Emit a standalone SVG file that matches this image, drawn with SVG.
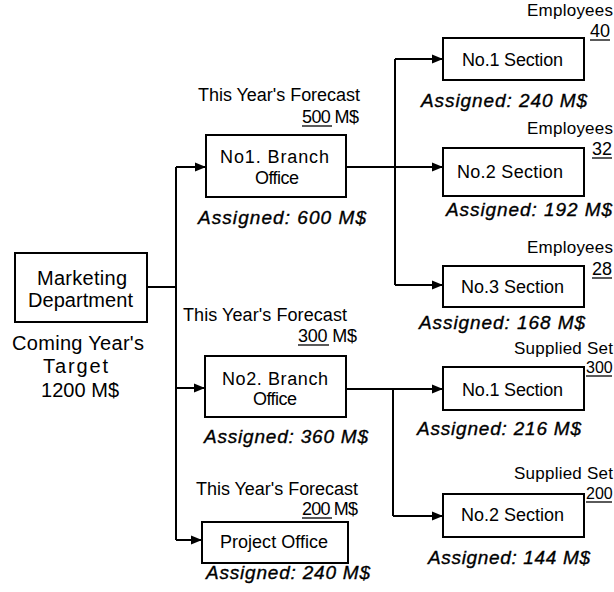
<svg xmlns="http://www.w3.org/2000/svg" width="614" height="592" viewBox="0 0 614 592">
  <style>
    text { font-family: "Liberation Sans", Arial, sans-serif; fill: #000; }
    .box { fill: #fff; stroke: #000; stroke-width: 2; }
    .big { font-size: 20px; }
    .lbl { font-size: 18px; }
    .sm { font-size: 17px; }
    .num { font-size: 16px; }
    .asg { font-size: 19px; font-style: italic; stroke: #000; stroke-width: 0.35; }
    .ul { stroke: #000; stroke-width: 1.3; }
    .wire { fill: none; stroke: #000; stroke-width: 2; }
    .arrow { fill: none; stroke: #000; stroke-width: 2; marker-end: url(#head); }
  </style>
  <defs>
    <marker id="head" markerWidth="12" markerHeight="10" refX="11" refY="5" orient="auto" markerUnits="userSpaceOnUse">
      <path d="M0,0.5 L11,5 L0,9.5 Z" fill="#000"/>
    </marker>
  </defs>
  <rect width="614" height="592" fill="#fff"/>

  <!-- connectors -->
  <g id="connectors">
    <path class="wire" d="M147,287 H176 M176,167 V540"/>
    <path class="arrow" d="M176,167 H206"/>
    <path class="arrow" d="M176,388 H205"/>
    <path class="arrow" d="M176,540 H202"/>
    <path class="wire" d="M395,59 V285"/>
    <path class="arrow" d="M346,167 H443"/>
    <path class="arrow" d="M395,59 H443"/>
    <path class="arrow" d="M395,285 H443"/>
    <path class="wire" d="M393,389 V516"/>
    <path class="arrow" d="M346,389 H443"/>
    <path class="arrow" d="M393,516 H443"/>
  </g>

  <!-- marketing department -->
  <g id="marketing">
    <rect class="box" x="15" y="253" width="132" height="69"/>
    <text class="big" x="37" y="285" textLength="90" lengthAdjust="spacing">Marketing</text>
    <text class="big" x="28" y="307" textLength="105" lengthAdjust="spacing">Department</text>
    <text class="big" x="12" y="350" textLength="132" lengthAdjust="spacing">Coming Year's</text>
    <text class="big" x="43" y="373" textLength="65" lengthAdjust="spacing">Target</text>
    <text class="big" x="41" y="397" textLength="78" lengthAdjust="spacing">1200 M$</text>
  </g>

  <!-- no1 branch office -->
  <g id="branch1">
    <text class="lbl" x="198" y="101" textLength="162" lengthAdjust="spacing">This Year's Forecast</text>
    <text class="lbl" x="302" y="123" textLength="57" lengthAdjust="spacing">500 M$</text>
    <line class="ul" x1="302" y1="126" x2="332" y2="126"/>
    <rect class="box" x="206" y="135" width="140" height="62"/>
    <text class="lbl" x="220" y="163" textLength="109" lengthAdjust="spacing">No1. Branch</text>
    <text class="lbl" x="255" y="184" textLength="44" lengthAdjust="spacing">Office</text>
    <text class="asg" x="198" y="224" textLength="168" lengthAdjust="spacing">Assigned: 600 M$</text>
  </g>

  <!-- no2 branch office -->
  <g id="branch2">
    <text class="lbl" x="183" y="321" textLength="164" lengthAdjust="spacing">This Year's Forecast</text>
    <text class="lbl" x="298" y="342" textLength="59" lengthAdjust="spacing">300 M$</text>
    <line class="ul" x1="298" y1="345" x2="329" y2="345"/>
    <rect class="box" x="205" y="356" width="141" height="61"/>
    <text class="lbl" x="222" y="385" textLength="106" lengthAdjust="spacing">No2. Branch</text>
    <text class="lbl" x="253" y="405" textLength="44" lengthAdjust="spacing">Office</text>
    <text class="asg" x="204" y="443" textLength="164" lengthAdjust="spacing">Assigned: 360 M$</text>
  </g>

  <!-- project office -->
  <g id="project">
    <text class="lbl" x="196" y="495" textLength="162" lengthAdjust="spacing">This Year's Forecast</text>
    <text class="lbl" x="302" y="515" textLength="56" lengthAdjust="spacing">200 M$</text>
    <line class="ul" x1="302" y1="518" x2="332" y2="518"/>
    <rect class="box" x="202" y="522" width="146" height="41"/>
    <text class="lbl" x="220" y="548" textLength="108" lengthAdjust="spacing">Project Office</text>
    <text class="asg" x="206" y="579" textLength="164" lengthAdjust="spacing">Assigned: 240 M$</text>
  </g>

  <!-- sections under no1 branch -->
  <g id="b1-section1">
    <text class="sm" x="527" y="16" textLength="86" lengthAdjust="spacing">Employees</text>
    <text class="lbl" x="590" y="37">40</text>
    <line class="ul" x1="590" y1="40" x2="610" y2="40"/>
    <rect class="box" x="443" y="38" width="141" height="42"/>
    <text class="lbl" x="462" y="66" textLength="101" lengthAdjust="spacing">No.1 Section</text>
    <text class="asg" x="421" y="107" textLength="166" lengthAdjust="spacing">Assigned: 240 M$</text>
  </g>

  <g id="b1-section2">
    <text class="sm" x="527" y="134" textLength="86" lengthAdjust="spacing">Employees</text>
    <text class="lbl" x="592" y="155">32</text>
    <line class="ul" x1="592" y1="158" x2="612" y2="158"/>
    <rect class="box" x="443" y="148" width="141" height="48"/>
    <text class="lbl" x="457" y="178" textLength="106" lengthAdjust="spacing">No.2 Section</text>
    <text class="asg" x="446" y="216" textLength="166" lengthAdjust="spacing">Assigned: 192 M$</text>
  </g>

  <g id="b1-section3">
    <text class="sm" x="527" y="253" textLength="86" lengthAdjust="spacing">Employees</text>
    <text class="lbl" x="592" y="275">28</text>
    <line class="ul" x1="592" y1="278" x2="612" y2="278"/>
    <rect class="box" x="443" y="266" width="141" height="41"/>
    <text class="lbl" x="461" y="293" textLength="103" lengthAdjust="spacing">No.3 Section</text>
    <text class="asg" x="419" y="329" textLength="166" lengthAdjust="spacing">Assigned: 168 M$</text>
  </g>

  <!-- sections under no2 branch -->
  <g id="b2-section1">
    <text class="sm" x="514" y="354" textLength="99" lengthAdjust="spacing">Supplied Set</text>
    <text class="num" x="586" y="373">300</text>
    <line class="ul" x1="586" y1="376" x2="612" y2="376"/>
    <rect class="box" x="443" y="367" width="141" height="43"/>
    <text class="lbl" x="462" y="396" textLength="101" lengthAdjust="spacing">No.1 Section</text>
    <text class="asg" x="417" y="435" textLength="164" lengthAdjust="spacing">Assigned: 216 M$</text>
  </g>

  <g id="b2-section2">
    <text class="sm" x="514" y="479" textLength="99" lengthAdjust="spacing">Supplied Set</text>
    <text class="num" x="586" y="499">200</text>
    <line class="ul" x1="586" y1="502" x2="612" y2="502"/>
    <rect class="box" x="443" y="494" width="141" height="43"/>
    <text class="lbl" x="461" y="521" textLength="103" lengthAdjust="spacing">No.2 Section</text>
    <text class="asg" x="428" y="564" textLength="162" lengthAdjust="spacing">Assigned: 144 M$</text>
  </g>
</svg>
